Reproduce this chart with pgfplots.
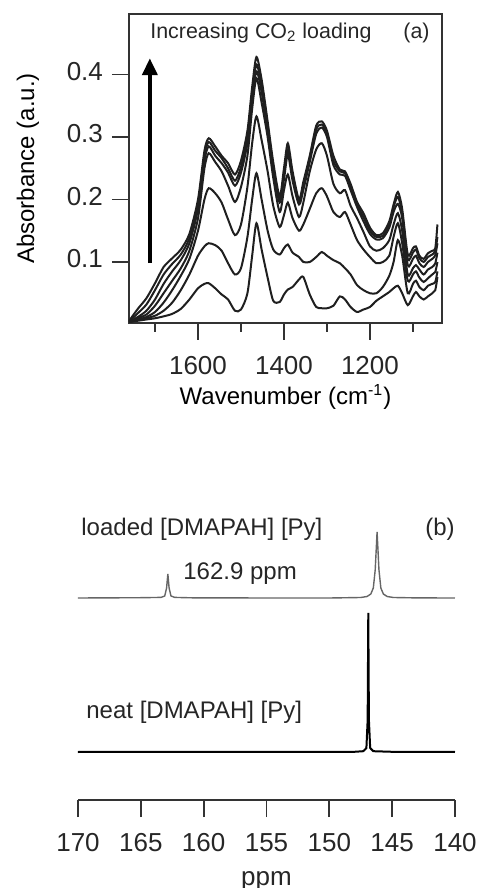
\documentclass[border=0pt]{standalone}
\usepackage{fontspec}
\setmainfont{Liberation Sans}
\usepackage{pgfplots}
\usepackage{pgfplotstable}
\pgfplotsset{compat=1.18}
\usetikzlibrary{arrows.meta}

% FTIR spectra, lowest (c1) to highest (c7) CO2 loading
\pgfplotstableread{
wn    c1    c2    c3    c4    c5    c6    c7
1760 0.004 0.004 0.004 0.004 0.005 0.005 0.006
1740 0.006 0.007 0.008 0.010 0.012 0.018 0.025
1720 0.008 0.010 0.012 0.016 0.022 0.032 0.042
1700 0.010 0.014 0.020 0.030 0.040 0.055 0.066
1680 0.013 0.022 0.035 0.050 0.065 0.080 0.092
1660 0.017 0.035 0.055 0.070 0.085 0.097 0.106
1640 0.025 0.055 0.078 0.090 0.103 0.112 0.120
1620 0.040 0.080 0.105 0.118 0.130 0.138 0.145
1600 0.058 0.110 0.150 0.170 0.185 0.193 0.200
1585 0.065 0.125 0.200 0.250 0.262 0.270 0.278
1575 0.066 0.130 0.218 0.274 0.285 0.292 0.298
1560 0.058 0.127 0.210 0.260 0.270 0.278 0.285
1545 0.048 0.118 0.195 0.245 0.258 0.266 0.270
1530 0.040 0.098 0.168 0.222 0.243 0.250 0.258
1514 0.022 0.080 0.143 0.196 0.222 0.230 0.240
1500 0.024 0.090 0.160 0.220 0.243 0.252 0.262
1485 0.050 0.140 0.220 0.270 0.290 0.300 0.310
1474 0.110 0.200 0.290 0.345 0.358 0.370 0.380
1464 0.162 0.242 0.333 0.394 0.405 0.416 0.428
1452 0.120 0.200 0.295 0.355 0.372 0.382 0.392
1438 0.075 0.150 0.245 0.300 0.310 0.318 0.325
1425 0.038 0.120 0.190 0.235 0.245 0.252 0.260
1410 0.036 0.112 0.156 0.180 0.195 0.200 0.205
1400 0.048 0.122 0.175 0.215 0.232 0.240 0.250
1391 0.056 0.128 0.195 0.240 0.272 0.280 0.290
1380 0.060 0.115 0.170 0.205 0.230 0.238 0.245
1365 0.072 0.108 0.150 0.172 0.192 0.196 0.200
1355 0.076 0.100 0.160 0.195 0.215 0.222 0.228
1340 0.048 0.100 0.185 0.245 0.260 0.266 0.270
1325 0.028 0.108 0.210 0.280 0.305 0.312 0.318
1312 0.026 0.116 0.218 0.290 0.315 0.320 0.325
1300 0.026 0.110 0.205 0.270 0.300 0.305 0.310
1285 0.030 0.103 0.180 0.225 0.255 0.262 0.270
1270 0.045 0.098 0.172 0.210 0.240 0.245 0.248
1258 0.040 0.090 0.180 0.215 0.238 0.242 0.245
1245 0.028 0.080 0.160 0.190 0.215 0.220 0.225
1230 0.020 0.063 0.135 0.170 0.188 0.192 0.196
1215 0.024 0.055 0.120 0.148 0.165 0.172 0.178
1200 0.028 0.050 0.108 0.125 0.145 0.150 0.155
1185 0.038 0.050 0.098 0.118 0.136 0.140 0.143
1170 0.045 0.060 0.100 0.122 0.138 0.142 0.146
1155 0.052 0.078 0.110 0.135 0.155 0.160 0.165
1145 0.058 0.100 0.140 0.160 0.180 0.188 0.192
1135 0.062 0.135 0.162 0.178 0.193 0.204 0.212
1125 0.050 0.110 0.130 0.150 0.170 0.178 0.185
1112 0.031 0.050 0.070 0.080 0.095 0.105 0.112
1100 0.045 0.065 0.080 0.090 0.105 0.115 0.122
1093 0.052 0.070 0.085 0.095 0.110 0.120 0.125
1085 0.045 0.060 0.075 0.088 0.098 0.106 0.110
1075 0.040 0.055 0.068 0.080 0.092 0.100 0.105
1065 0.045 0.062 0.074 0.088 0.100 0.108 0.114
1055 0.050 0.065 0.080 0.092 0.105 0.112 0.118
1048 0.055 0.068 0.084 0.098 0.111 0.118 0.122
1043 0.076 0.085 0.100 0.115 0.130 0.140 0.160
}\ftir

% 13C NMR traces (y in offset units above the ppm axis)
\pgfplotstableread{
ppm   y
170   202
165   202.3
163.4 202.6
163.1 204
162.95 212
162.85 226
162.75 212
162.6 204
162.3 202.6
161   202.2
155   202
150   202
147.5 202.5
147.0 203.5
146.7 206
146.5 212
146.35 230
146.2 268
146.05 230
145.9 212
145.7 206
145.4 203.5
144.9 202.5
143   202.1
140   202
}\loaded

\pgfplotstableread{
ppm   y
170   48
148   48.2
147.3 48.8
147.05 52
146.95 80
146.9 187
146.85 80
146.75 52
146.5 48.8
145   48.2
140   48
}\neat

\begin{document}
\begin{tikzpicture}[font=\fontsize{12}{14}\selectfont]
\useasboundingbox (0,0) rectangle (240pt,444pt);

\begin{axis}[
  scale only axis,
  width=156.5pt, height=154.5pt,
  at={(64.5pt,282.5pt)}, anchor=south west,
  x dir=reverse,
  xmin=1032.4, xmax=1760.5,
  ymin=0.0024, ymax=0.4968,
  xtick={1600,1400,1200}, xticklabels={1600,1400,1200},
  minor xtick={1700,1500,1300,1100},
  ytick={0.1,0.2,0.3,0.4}, yticklabels={0.1,0.2,0.3,0.4},
  tick align=outside, xtick pos=left, ytick pos=left,
  major tick length=8.5pt, minor tick length=4.5pt,
  tick style={line width=0.9pt, black!80},
  axis line style={line width=0.9pt, black!80},
  typeset ticklabels with strut,
  ticklabel style={text=black!85, font=\fontsize{13}{15}\selectfont},
  xticklabel style={yshift=-3pt},
  yticklabel style={xshift=-1pt},
  xlabel={Wavenumber (cm\textsuperscript{-1})},
  ylabel={Absorbance (a.u.)},
  label style={text=black!85, font=\fontsize{13}{15}\selectfont},
  every axis y label/.style={at={(axis description cs:-0.323,0.5)}, rotate=90, anchor=center},
  every axis x label/.style={at={(axis description cs:0.5,-0.24)}, anchor=center},
]
\foreach \c in {c1,c2,c3,c4,c5,c6,c7}{
  \addplot[smooth, tension=0.45, line width=1pt, black!88] table[x=wn, y=\c]{\ftir};
}
\draw[line width=2pt, black, -{Triangle[width=7.5pt,length=8.5pt]}]
  (axis cs:1712,0.098) -- (axis cs:1712,0.426);
\end{axis}

\node[anchor=west, inner sep=0pt, text=black!85, font=\fontsize{10.7}{12}\selectfont] at (75pt,427.5pt) {Increasing CO\textsubscript{2} loading};
\node[anchor=east, inner sep=0pt, text=black!85, font=\fontsize{10.7}{12}\selectfont] at (215pt,427.5pt) {(a)};

\begin{axis}[
  scale only axis,
  width=188.5pt, height=140pt,
  at={(39pt,44pt)}, anchor=south west,
  x dir=reverse,
  xmin=140, xmax=170, ymin=0, ymax=280,
  axis x line*=bottom, hide y axis,
  xtick={140,145,150,155,160,165,170}, xticklabels={140,145,150,155,160,165,170},
  tick align=outside,
  major tick length=8.5pt,
  tick style={line width=0.9pt, black!80},
  axis line style={line width=0.9pt, black!80},
  typeset ticklabels with strut,
  ticklabel style={text=black!85, font=\fontsize{13}{15}\selectfont},
  xticklabel style={yshift=-3pt},
  xlabel={ppm},
  every axis x label/.style={at={(axis description cs:0.5,-0.29)}, anchor=center, text=black!85, font=\fontsize{13}{15}\selectfont},
  clip=false,
]
\addplot[line width=0.7pt, black!60] table[x=ppm, y=y]{\loaded};
\addplot[line width=1pt, black] table[x=ppm, y=y]{\neat};
\end{axis}

\node[anchor=west, inner sep=0pt, text=black!85] at (40.5pt,179.5pt) {loaded [DMAPAH] [Py]};
\node[anchor=east, inner sep=0pt, text=black!85] at (227.5pt,179.5pt) {(b)};
\node[anchor=west, inner sep=0pt, text=black!85] at (91.5pt,157pt) {162.9 ppm};
\node[anchor=west, inner sep=0pt, text=black!85] at (43pt,88pt) {neat [DMAPAH] [Py]};
\end{tikzpicture}
\end{document}
